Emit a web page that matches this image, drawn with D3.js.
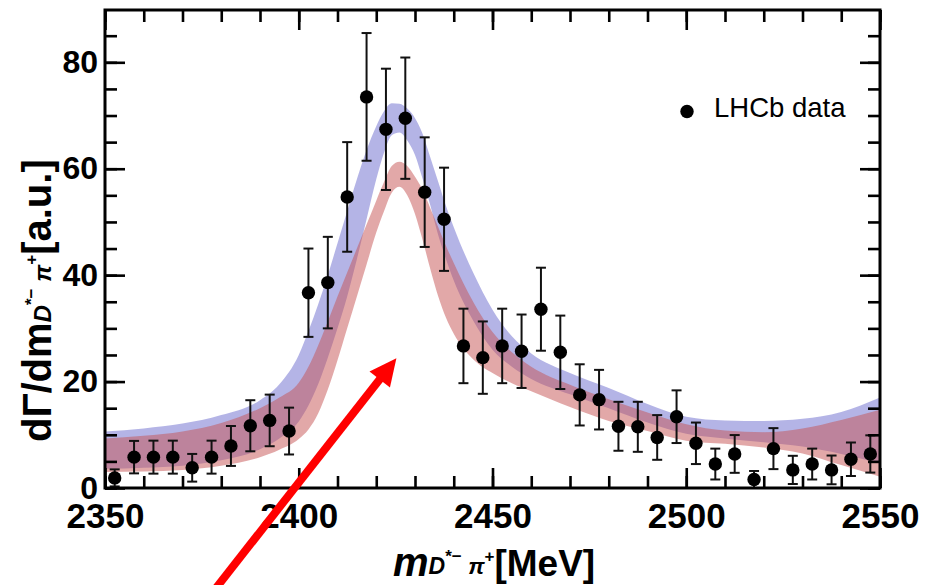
<!DOCTYPE html>
<html><head><meta charset="utf-8">
<script src="https://cdn.jsdelivr.net/npm/d3@7"></script>
<style>html,body{margin:0;padding:0;background:#fff;} svg{display:block;}</style>
</head><body>
<svg id="chart" width="927" height="585"></svg>
<script>
// ---------------- data ----------------
const massBins = [2352.5,2357.5,2362.5,2367.5,2372.5,2377.5,2382.5,2387.5,2392.5,2397.5,
  2402.5,2407.5,2412.5,2417.5,2422.5,2427.5,2432.5,2437.5,2442.5,2447.5,
  2452.5,2457.5,2462.5,2467.5,2472.5,2477.5,2482.5,2487.5,2492.5,2497.5,
  2502.5,2507.5,2512.5,2517.5,2522.5,2527.5,2532.5,2537.5,2542.5,2547.5];
const dataValues = [1.9,5.8,5.8,5.8,3.8,5.8,7.9,11.7,12.7,10.7,
  36.7,38.6,54.7,73.5,67.4,69.5,55.6,50.5,26.7,24.5,
  26.7,25.7,33.6,25.5,17.5,16.6,11.6,11.5,9.5,13.4,
  8.4,4.5,6.4,1.6,7.4,3.4,4.5,3.4,5.4,6.4];
const dataErrors = [1.6,3.05,3.1,3.1,2.6,3.1,3.75,4.8,4.85,4.4,
  8.3,8.6,10.3,12.0,11.4,11.4,10.3,9.7,7.0,6.8,
  7.0,6.9,7.8,6.9,5.75,5.6,4.6,4.7,4.2,4.95,
  3.9,2.9,3.55,1.6,3.85,2.65,2.9,2.7,3.15,3.5];

const bandMass  = [2350,2360,2370,2380,2390,2395,2400,2402.5,2405,2407.5,2410,2412.5,2415,2417.5,2420,2422,2424,2426,2428,2430,2432,2434,2436,2438,2440,2445,2450,2455,2460,2470,2480,2490,2500,2510,2520,2530,2540,2550];
const blueUpper = [10.6,11.2,12.1,13.7,16.5,19.5,25.0,29.5,34.5,40.0,46.0,52.0,58.0,63.5,68.0,70.8,72.3,72.2,71.3,69.5,66.5,62.0,57.5,53.0,49.0,40.5,33.5,28.5,25.3,21.6,18.8,15.8,13.4,12.7,12.6,13.0,14.3,17.0];
const blueLower = [3.6,3.8,4.2,5.2,7.3,9.3,12.5,15.5,19.5,24.5,30.0,36.0,43.0,50.5,58.0,63.0,66.3,66.8,65.3,62.6,58.0,53.0,47.5,43.0,39.0,31.5,26.0,22.8,20.5,17.6,15.0,12.3,10.2,9.3,8.6,7.8,6.4,4.6];
const redUpper  = [9.3,9.8,10.6,12.2,15.0,17.0,19.8,22.8,26.8,31.3,36.0,40.5,45.0,49.5,54.0,57.5,60.5,61.3,60.5,58.5,56.0,52.5,49.0,45.5,42.3,35.0,29.3,25.5,22.8,19.4,16.7,14.2,12.0,10.8,10.5,11.2,12.8,14.7];
const redLower  = [3.0,3.1,3.4,4.2,5.8,7.2,9.2,11.0,14.0,18.5,24.0,30.0,36.0,42.0,48.0,52.0,55.5,56.6,55.0,51.5,46.5,41.0,36.0,32.0,29.0,24.2,21.6,19.7,18.2,15.2,12.6,10.7,8.9,8.3,7.6,6.5,4.3,2.1];

const xMajorTicks = [2350,2400,2450,2500,2550];
const xMinorTicks = d3.range(2350, 2551, 10);
const yMajorTicks = [0,20,40,60,80];
const yMinorTicks = d3.range(0, 90, 5);

const legendLabel = "LHCb data";
const arrowTail = [2377.9, -19.5];
const arrowTip  = [2425.2, 24.4];

// ---------------- drawing ----------------
const svg = d3.select("#chart");
const L = 105, R = 880, T = 10, B = 488;
const x = d3.scaleLinear().domain([2350, 2550]).range([L, R]);
const y = d3.scaleLinear().domain([0, 89.83]).range([B, T]);
const FONT = "'Liberation Sans', Arial, Helvetica, sans-serif";

svg.append("defs").append("clipPath").attr("id","clip")
  .append("rect").attr("x",L).attr("y",T).attr("width",R-L).attr("height",B-T);

function bandPath(upper, lower) {
  const line = d3.line().x(d => x(d[0])).y(d => y(d[1])).curve(d3.curveMonotoneX);
  const up = bandMass.map((m,i) => [m, upper[i]]);
  const lo = bandMass.map((m,i) => [m, lower[i]]).reverse();
  return line(up) + "L" + line(lo).slice(1) + "Z";
}

const g = svg.append("g").attr("clip-path","url(#clip)");
g.append("path").attr("d", bandPath(blueUpper, blueLower))
  .attr("fill","rgb(105,105,205)").attr("fill-opacity",0.5);
g.append("path").attr("d", bandPath(redUpper, redLower))
  .attr("fill","rgb(197,81,81)").attr("fill-opacity",0.5);

// error bars
const pts = massBins.map((m,i) => ({m, v: dataValues[i], e: dataErrors[i]}));
const eb = g.append("g").attr("stroke","#111").attr("stroke-width",2);
pts.forEach(p => {
  const lo = Math.max(0, p.v - p.e), hi = p.v + p.e;
  eb.append("line").attr("x1",x(p.m)).attr("x2",x(p.m)).attr("y1",y(lo)).attr("y2",y(hi));
  eb.append("line").attr("x1",x(p.m)-5).attr("x2",x(p.m)+5).attr("y1",y(hi)).attr("y2",y(hi));
  if (p.v - p.e > 0) eb.append("line").attr("x1",x(p.m)-5).attr("x2",x(p.m)+5).attr("y1",y(lo)).attr("y2",y(lo));
});
svg.append("g").selectAll("circle").data(pts).join("circle")
  .attr("cx", d => x(d.m)).attr("cy", d => y(d.v)).attr("r", 6.7).attr("fill","#000");

// axes (ticks inward)
function styleAxis(sel){ sel.select(".domain").remove(); sel.selectAll(".tick line").attr("stroke","#000").attr("stroke-width",2.6); }
svg.append("g").attr("transform",`translate(0,${B})`)
  .call(d3.axisBottom(x).tickValues(xMinorTicks).tickSize(-12).tickFormat("")).call(styleAxis);
svg.append("g").attr("transform",`translate(0,${B})`)
  .call(d3.axisBottom(x).tickValues(xMajorTicks).tickSize(-20).tickPadding(15).tickFormat(d3.format("d")))
  .call(styleAxis)
  .selectAll("text").attr("font-family",FONT).attr("font-weight","bold").attr("font-size",35).attr("fill","#000");
svg.append("g").attr("transform",`translate(0,${T})`)
  .call(d3.axisTop(x).tickValues(xMinorTicks).tickSize(-12).tickFormat("")).call(styleAxis);
svg.append("g").attr("transform",`translate(0,${T})`)
  .call(d3.axisTop(x).tickValues(xMajorTicks).tickSize(-20).tickFormat("")).call(styleAxis);

svg.append("g").attr("transform",`translate(${L},0)`)
  .call(d3.axisLeft(y).tickValues(yMinorTicks).tickSize(-12).tickFormat("")).call(styleAxis);
svg.append("g").attr("transform",`translate(${L},0)`)
  .call(d3.axisLeft(y).tickValues(yMajorTicks).tickSize(-20).tickPadding(7).tickFormat(d3.format("d")))
  .call(styleAxis)
  .selectAll("text").attr("font-family",FONT).attr("font-weight","bold").attr("font-size",32).attr("fill","#000");
svg.append("g").attr("transform",`translate(${R},0)`)
  .call(d3.axisRight(y).tickValues(yMinorTicks).tickSize(-12).tickFormat("")).call(styleAxis);
svg.append("g").attr("transform",`translate(${R},0)`)
  .call(d3.axisRight(y).tickValues(yMajorTicks).tickSize(-20).tickFormat("")).call(styleAxis);

svg.append("rect").attr("x",L).attr("y",T).attr("width",R-L).attr("height",B-T)
  .attr("fill","none").attr("stroke","#000").attr("stroke-width",3);

// legend
svg.append("circle").attr("cx",687).attr("cy",111.5).attr("r",6.7).attr("fill","#000");
svg.append("text").attr("x",714).attr("y",117).attr("font-family",FONT).attr("font-size",27.5)
  .attr("fill","#000").text(legendLabel);

// x title
const xt = svg.append("text").attr("x",393).attr("y",576).attr("font-family",FONT)
  .attr("font-weight","bold").attr("font-size",37).attr("fill","#000");
xt.append("tspan").attr("font-style","italic").attr("font-size",40).text("m");
xt.append("tspan").attr("font-style","italic").attr("font-size",23).attr("dy",-2).text("D");
xt.append("tspan").attr("font-size",17).attr("dy",-12).text("*−");
xt.append("tspan").attr("font-style","italic").attr("font-size",23).attr("dy",12).text(" π");
xt.append("tspan").attr("font-size",17).attr("dy",-12).text("+");
xt.append("tspan").attr("dy",14).text("[MeV]");

// y title
const yt = svg.append("text").attr("transform","translate(51,442) rotate(-90)").attr("font-family",FONT)
  .attr("font-weight","bold").attr("font-size",40).attr("fill","#000");
yt.append("tspan").text("dΓ/dm");
yt.append("tspan").attr("font-style","italic").attr("font-size",24).text("D");
yt.append("tspan").attr("font-size",17).attr("dy",-14).text("*−");
yt.append("tspan").attr("font-style","italic").attr("font-size",24).attr("dy",14).text(" π");
yt.append("tspan").attr("font-size",17).attr("dy",-14).text("+");
yt.append("tspan").attr("dy",14).text("[a.u.]");

// red arrow annotation
const tx = x(arrowTip[0]), ty = y(arrowTip[1]);
const sx = x(arrowTail[0]), sy = y(arrowTail[1]);
const len = Math.hypot(tx-sx, ty-sy), ux = (tx-sx)/len, uy = (ty-sy)/len;
const headL = 27, headW = 13;
const bx = tx - ux*headL, by = ty - uy*headL;
svg.append("line").attr("x1",sx).attr("y1",sy).attr("x2",bx+ux*2).attr("y2",by+uy*2)
  .attr("stroke","#f00").attr("stroke-width",8);
svg.append("path").attr("d",`M${tx},${ty}L${bx - uy*headW},${by + ux*headW}L${bx + uy*headW},${by - ux*headW}Z`)
  .attr("fill","#f00");
</script>
</body></html>
